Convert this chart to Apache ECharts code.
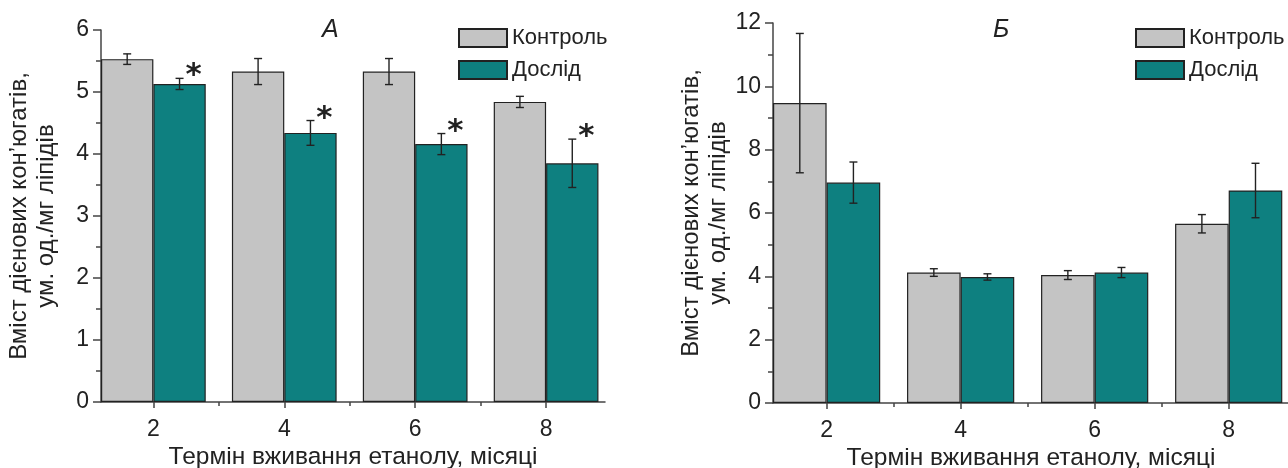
<!DOCTYPE html>
<html>
<head>
<meta charset="utf-8">
<script src="https://cdn.jsdelivr.net/npm/echarts@6/dist/echarts.min.js"></script>
<style>
  html, body { margin: 0; padding: 0; background: #fff; }
  #chart { width: 1288px; height: 468px; }
</style>
</head>
<body>
<div id="chart"></div>
<script>
// Term of ethanol intake, months
const months = [2, 4, 6, 8];
const minorMonths = [3, 5, 7];

// Panel А: mean and error per term
const controlA = [5.53, 5.33, 5.33, 4.84];
const controlAErr = [0.085, 0.21, 0.21, 0.09];
const experimentA = [5.13, 4.34, 4.16, 3.85];
const experimentAErr = [0.09, 0.2, 0.17, 0.39];
const significantA = [true, true, true, true];

// Panel Б: mean and error per term
const controlB = [9.47, 4.12, 4.04, 5.66];
const controlBErr = [2.2, 0.12, 0.14, 0.29];
const experimentB = [6.96, 3.98, 4.12, 6.71];
const experimentBErr = [0.65, 0.1, 0.16, 0.86];
const significantB = [false, false, false, false];

const seriesNames = ['Контроль', 'Дослід'];
const xTitle = 'Термін вживання етанолу, місяці';
const yTitle = 'Вміст дієнових кон’югатів,\nум. од./мг ліпідів';

const FONT = '"Liberation Sans", Arial, sans-serif';
const TEXT = '#222';
const GREY = '#c4c4c4';
const TEAL = '#0e8080';
const EDGE = '#222';
const AXIS = '#444';

const pairs = vals => months.map((m, i) => [m, vals[i]]);
const triples = (vals, errs) => months.map((m, i) => [m, vals[i], errs[i]]);

// Error bars (and optional significance stars) centred on each bar of a pair
function errorSeries(idx, vals, errs, side, stars) {
  return {
    type: 'custom',
    xAxisIndex: idx * 2,
    yAxisIndex: idx,
    z: 5,
    silent: true,
    data: triples(vals, errs),
    renderItem(params, api) {
      const x = api.value(0), v = api.value(1), e = api.value(2);
      const half = api.size([0.4, 0])[0];
      const cx = api.coord([x, v])[0] + side * half;
      const yt = api.coord([x, v + e])[1];
      const yb = api.coord([x, v - e])[1];
      const cap = 4;
      const style = { stroke: EDGE, lineWidth: 1.4 };
      const children = [
        { type: 'line', shape: { x1: cx, y1: yt, x2: cx, y2: yb }, style },
        { type: 'line', shape: { x1: cx - cap, y1: yt, x2: cx + cap, y2: yt }, style },
        { type: 'line', shape: { x1: cx - cap, y1: yb, x2: cx + cap, y2: yb }, style }
      ];
      if (stars && stars[params.dataIndex]) {
        children.push({
          type: 'text',
          style: {
            text: '*', x: cx + 14, y: yt - 2,
            align: 'center', verticalAlign: 'middle',
            fontSize: 31, fontWeight: 'bold', fontFamily: '"DejaVu Sans", sans-serif', fill: TEXT
          }
        });
      }
      return { type: 'group', children };
    }
  };
}

function barSeries(idx, name, vals, color) {
  return {
    type: 'bar',
    name,
    xAxisIndex: idx * 2,
    yAxisIndex: idx,
    data: pairs(vals),
    barWidth: '40%',
    barGap: '0%',
    z: 2,
    itemStyle: { color, borderColor: EDGE, borderWidth: 1.2 }
  };
}

function xAxes(grid) {
  return [
    {
      type: 'value', gridIndex: grid, position: 'bottom', min: 1.2, max: 8.9,
      axisLine: { show: true, onZero: false, lineStyle: { color: AXIS, width: 1.5 } },
      axisTick: { show: true, customValues: months, length: 6, lineStyle: { color: AXIS, width: 1.5 } },
      axisLabel: { customValues: months, margin: 16, fontSize: 23, color: TEXT, fontFamily: FONT },
      splitLine: { show: false },
      name: xTitle, nameLocation: 'middle', nameGap: 43, nameMoveOverlap: false,
      nameTextStyle: { fontSize: 24.5, color: TEXT, fontFamily: FONT }
    },
    {
      type: 'value', gridIndex: grid, position: 'bottom', min: 1.2, max: 8.9,
      axisLine: { show: false },
      axisTick: { show: true, customValues: minorMonths, length: 4, lineStyle: { color: AXIS, width: 1.5 } },
      axisLabel: { show: false },
      splitLine: { show: false }
    }
  ];
}

function yAxis(grid, max, interval) {
  return {
    type: 'value', gridIndex: grid, min: 0, max, interval,
    axisLine: { show: true, lineStyle: { color: AXIS, width: 1.5 } },
    axisTick: { show: true, length: 8, lineStyle: { color: AXIS, width: 1.5 } },
    minorTick: { show: true, splitNumber: 2, length: 5, lineStyle: { color: AXIS, width: 1.5 } },
    axisLabel: { margin: 12, fontSize: 23, color: TEXT, fontFamily: FONT },
    splitLine: { show: false },
    minorSplitLine: { show: false },
    name: yTitle, nameLocation: 'middle', nameRotate: 90, nameGap: 41, nameMoveOverlap: false,
    nameTextStyle: { fontSize: 24, lineHeight: 27, color: TEXT, fontFamily: FONT, align: 'center' }
  };
}

function legend(left) {
  return {
    data: seriesNames, orient: 'vertical', left, top: 27, padding: 0,
    itemWidth: 48, itemHeight: 18, itemGap: 10, icon: 'rect', selectedMode: false,
    textStyle: { fontSize: 22, lineHeight: 18, color: TEXT, fontFamily: FONT }
  };
}

const panelTitleStyle = { fontSize: 25, fontStyle: 'italic', fontWeight: 'normal', color: TEXT, fontFamily: FONT };

const chart = echarts.init(document.getElementById('chart'), null, { renderer: 'canvas' });
chart.setOption({
  animation: false,
  backgroundColor: '#fff',
  title: [
    { text: 'А', left: 322, top: 18, padding: 0, textStyle: panelTitleStyle },
    { text: 'Б', left: 993, top: 18, padding: 0, textStyle: panelTitleStyle }
  ],
  legend: [legend(458), legend(1135)],
  grid: [
    { left: 101, top: 30, width: 504, height: 372, outerBoundsMode: 'none' },
    { left: 773, top: 23, width: 516, height: 380, outerBoundsMode: 'none' }
  ],
  xAxis: [...xAxes(0), ...xAxes(1)],
  yAxis: [yAxis(0, 6, 1), yAxis(1, 12, 2)],
  series: [
    barSeries(0, seriesNames[0], controlA, GREY),
    barSeries(0, seriesNames[1], experimentA, TEAL),
    errorSeries(0, controlA, controlAErr, -1, null),
    errorSeries(0, experimentA, experimentAErr, 1, significantA),
    barSeries(1, seriesNames[0], controlB, GREY),
    barSeries(1, seriesNames[1], experimentB, TEAL),
    errorSeries(1, controlB, controlBErr, -1, null),
    errorSeries(1, experimentB, experimentBErr, 1, significantB)
  ]
});
</script>
</body>
</html>
